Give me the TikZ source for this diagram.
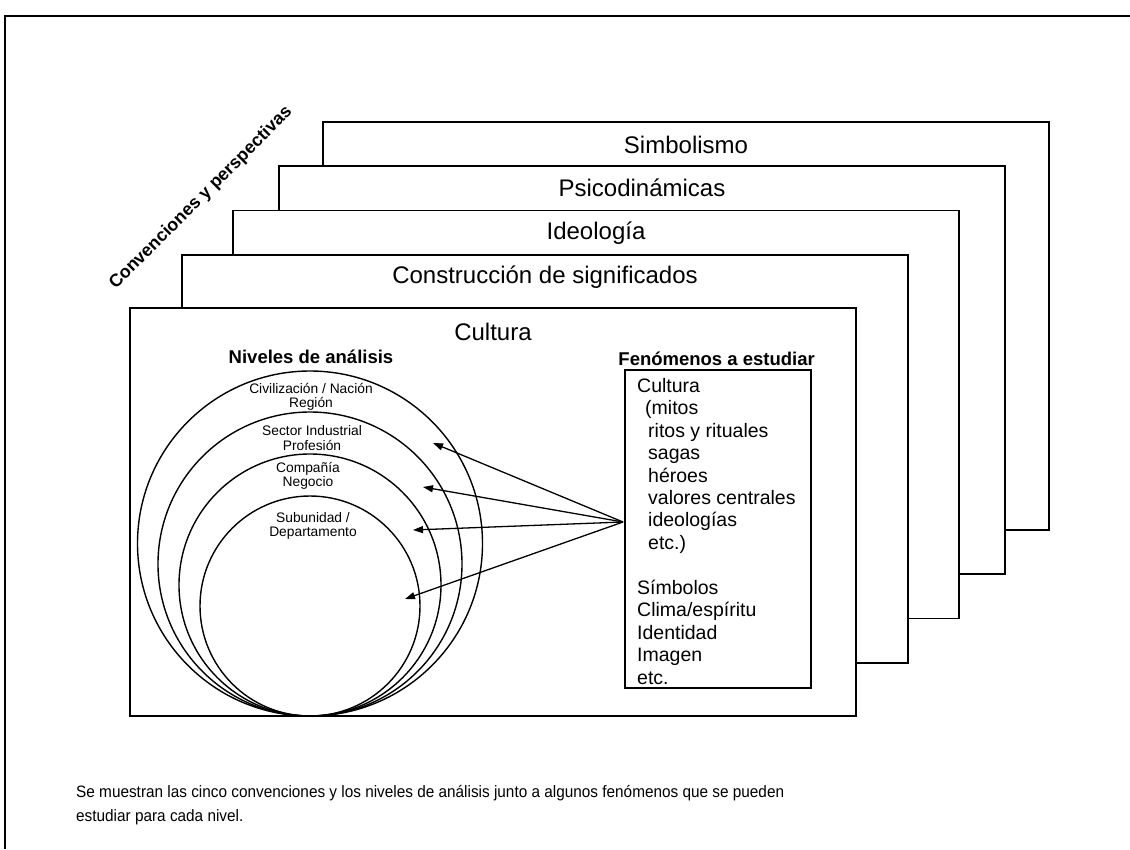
\documentclass[tikz,border=0pt]{standalone}
\usepackage{fontspec}
\setmainfont{Liberation Sans}
\newfontfamily\narrowsans[FakeStretch=0.93]{Liberation Sans}
\usetikzlibrary{arrows.meta,calc}
\newcommand\pxfont[2]{\fontsize{#1pt}{#2pt}\selectfont}

\begin{document}
\begin{tikzpicture}[x=1pt,y=-1pt,
  layer/.style={draw, fill=white, line width=1.6pt, minimum width=726pt,
    minimum height=408pt, inner sep=0pt, outer sep=0pt},
  layertitle/.style={font=\pxfont{24}{28}, inner sep=0pt},
  boldtitle/.style={font=\bfseries\pxfont{18.5}{21}, inner sep=0pt},
  ring/.style={circle, draw, line width=1.4pt, inner sep=0pt, outer sep=0pt},
  ringlabel/.style={font=\pxfont{13.8}{14.6}, align=center, inner sep=0pt},
  listbox/.style={draw, fill=white, line width=1.6pt, inner sep=0pt, outer sep=0pt},
  pointer/.style={line width=1.3pt, -{Triangle[length=10pt,width=7pt]}},
  captext/.style={font=\narrowsans\pxfont{16.5}{24}, inner sep=0pt, anchor=base west}
]
\useasboundingbox (0,0) rectangle (1130,849);

% outer frame
\draw[line width=1.8pt] (5,849) -- (5,16) -- (1130,16);

% stacked layers, back to front
\node[layer] (simb)  at (686,326) {};
\node[layer] (psico) at (642,370) {};
\node[layer] (ideo)  at (596,414.5) {};
\node[layer] (const) at (545,459) {};
\node[layer] (cult)  at (493,512) {};

\node[layertitle] (simbT)  at ($(simb.north)+(0,23)$)  {Simbolismo};
\node[layertitle] (psicoT) at ($(psico.north)+(0,22)$) {Psicodinámicas};
\node[layertitle] (ideoT)  at ($(ideo.north)+(0,23)$)  {Ideología};
\node[layertitle] (constT) at ($(const.north)+(0,22)$) {Construcción de significados};
\node[layertitle] (cultT)  at ($(cult.north)+(0,24)$)  {Cultura};

% diagonal heading
\node[font=\bfseries\pxfont{17.8}{21}, inner sep=0pt, rotate=45] (conv) at (201,198)
  {Convenciones y perspectivas};

% levels of analysis
\node[boldtitle] (nivT) at (311,357) {Niveles de análisis};
\node[ring, minimum size=345pt] (c1) at (310,543.5) {};
\node[ring, minimum size=304pt] (c2) at (310,564) {};
\node[ring, minimum size=262pt] (c3) at (310,585) {};
\node[ring, minimum size=220pt] (c4) at (310,606) {};

\node[ringlabel] (l1) at (311,397) {Civilización / Nación\\Región};
\node[ringlabel] (l2) at (312,438) {Sector Industrial\\Profesión};
\node[ringlabel] (l3) at (308,476) {Compañía\\Negocio};
\node[ringlabel] (l4) at (313,526) {Subunidad /\\Departamento};

% phenomena to study
\node[boldtitle, anchor=east] (fenT) at (815,359) {Fenómenos a estudiar};
\node[listbox, minimum width=186pt, minimum height=318pt] (fen) at (718,529) {};
\node[anchor=north west, inner sep=0pt, align=left, font=\pxfont{19.5}{22.45}]
  (fenlist) at (637,376.3)
  {\strut Cultura\\
   \hspace*{8pt}(mitos\\
   \hspace*{11pt}ritos y rituales\\
   \hspace*{11pt}sagas\\
   \hspace*{11pt}héroes\\
   \hspace*{11pt}valores centrales\\
   \hspace*{11pt}ideologías\\
   \hspace*{11pt}etc.)\\[22.45pt]
   Símbolos\\
   Clima/espíritu\\
   Identidad\\
   Imagen\\
   etc.};

% arrows from the phenomena box into the levels
\coordinate (src) at ($(fen.west)+(-2,-7)$);
\coordinate (t1) at (433,443);
\coordinate (t2) at (423,487);
\coordinate (t3) at (413,530);
\coordinate (t4) at (405,599);
\draw[pointer] (src) -- (t1);
\draw[pointer] (src) -- (t2);
\draw[pointer] (src) -- (t3);
\draw[pointer] (src) -- (t4);

% caption
\node[captext] (cap1) at (76,797.5) {Se muestran las cinco convenciones y los niveles de análisis junto a algunos fenómenos que se pueden};
\node[captext] (cap2) at (76,821) {estudiar para cada nivel.};
\end{tikzpicture}
\end{document}
